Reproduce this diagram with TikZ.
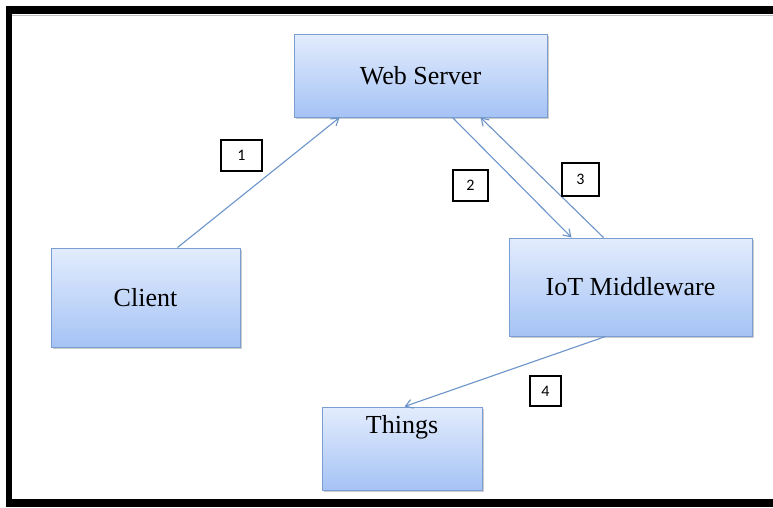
\documentclass[tikz,border=0pt]{standalone}
\usepackage{fontspec}
\setmainfont{Liberation Serif}
\newfontfamily\digitfont{Carlito}
\usetikzlibrary{arrows.meta,shadows,calc}
\definecolor{boxtop}{HTML}{E3ECFD}
\definecolor{boxbottom}{HTML}{A5C3F5}
\definecolor{boxedge}{HTML}{7B9ED2}
\definecolor{linkblue}{HTML}{6C94CA}
\tikzset{
  block/.style={draw=boxedge, line width=1pt, top color=boxtop, bottom color=boxbottom,
    drop shadow={shadow xshift=1.5pt, shadow yshift=-2pt, opacity=0.4},
    font=\fontsize{26}{30}\selectfont, inner sep=0pt},
  tag/.style={draw=black, line width=2.8pt, fill=white, font=\digitfont\fontsize{16}{19}\selectfont, inner sep=0pt},
  link/.style={draw=linkblue, line width=1.1pt, -{Straight Barb[length=7pt,width=9pt,line width=1.1pt]}}
}
\begin{document}
\begin{tikzpicture}[x=1pt,y=-1pt]
\useasboundingbox (0,0) rectangle (773,507);
\fill[white] (0,0) rectangle (773,507);
% outer frame
\fill[black] (6,6) rectangle (773,14);
\fill[black] (6,6) rectangle (12,507);
\fill[black] (6,499) rectangle (773,507);
\draw[gray!50, line width=0.8pt] (12,15) -- (773,15);

% boxes
\node[block, minimum width=253pt, minimum height=83pt] (web) at (420.5,75.5) {Web Server};
\node[block, minimum width=189pt, minimum height=99pt] (client) at (145.5,297.5) {Client};
\node[block, minimum width=243pt, minimum height=98pt] (iot) at (630.5,287) {IoT Middleware};
\node[block, minimum width=160pt, minimum height=83pt] (things) at (402,448.5) {};
\node[font=\fontsize{26}{30}\selectfont, inner sep=0pt] (thingslabel) at (402,427) {Things};

% connectors
\draw[link] ([xshift=127pt]client.north west) -- ([xshift=46pt]web.south west);
\draw[link] ([xshift=159pt]web.south west) -- ([xshift=63pt]iot.north west);
\draw[link] ([xshift=95pt]iot.north west) -- ([xshift=187pt]web.south west);
\draw[link] ([xshift=97pt]iot.south west) -- ([xshift=83pt]things.north west);

% step numbers
\node[tag, minimum width=41pt, minimum height=31pt] (t1) at (241.5,155.5) {1};
\node[tag, minimum width=35pt, minimum height=31pt] (t2) at (470.5,185.5) {2};
\node[tag, minimum width=37pt, minimum height=33pt] (t3) at (580.5,179.5) {3};
\node[tag, minimum width=31pt, minimum height=30pt] (t4) at (545.5,391) {4};
\end{tikzpicture}
\end{document}
